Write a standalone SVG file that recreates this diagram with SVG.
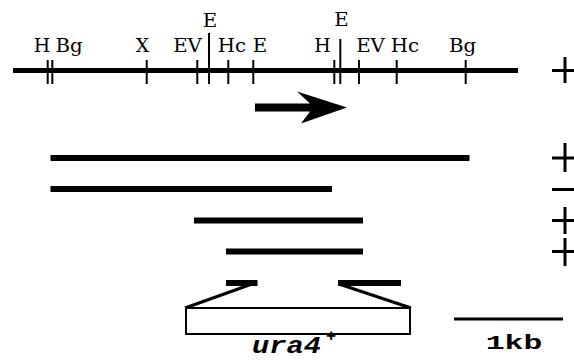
<svg xmlns="http://www.w3.org/2000/svg" width="574" height="360" viewBox="0 0 574 360">
<style>
.bg{fill:#fff}
.bar{stroke:#000;stroke-linecap:butt;fill:none}
.tick{stroke:#000;stroke-width:2;fill:none}
.lbl{font-family:"DejaVu Serif","Liberation Serif",serif;font-size:18px;fill:#000;text-anchor:middle}
.sign{stroke:#000;stroke-width:3;fill:none}
.bold{font-family:"Liberation Mono","Courier New",monospace;font-weight:bold;fill:#000}
</style>
<rect class="bg" x="0" y="0" width="574" height="360"/>
<g id="map">
<line class="bar" x1="13" y1="70.5" x2="518" y2="70.5" stroke-width="5"/>
<line class="tick" x1="47.7" y1="60" x2="47.7" y2="84"/>
<line class="tick" x1="52.3" y1="60" x2="52.3" y2="84"/>
<line class="tick" x1="146.7" y1="60" x2="146.7" y2="84"/>
<line class="tick" x1="197.3" y1="60" x2="197.3" y2="84"/>
<line class="tick" x1="209" y1="33" x2="209" y2="84"/>
<line class="tick" x1="228.3" y1="60" x2="228.3" y2="84"/>
<line class="tick" x1="253.3" y1="60" x2="253.3" y2="84"/>
<line class="tick" x1="334.3" y1="60" x2="334.3" y2="84"/>
<line class="tick" x1="340.3" y1="39" x2="340.3" y2="84"/>
<line class="tick" x1="359" y1="60" x2="359" y2="84"/>
<line class="tick" x1="396.7" y1="60" x2="396.7" y2="84"/>
<line class="tick" x1="465.7" y1="60" x2="465.7" y2="84"/>
<text class="lbl" transform="translate(42,52) scale(1.05,1)">H</text>
<text class="lbl" transform="translate(69,52) scale(1.1,1)">Bg</text>
<text class="lbl" transform="translate(142.5,52) scale(1.05,1)">X</text>
<text class="lbl" transform="translate(187.5,52) scale(1.1,1)">EV</text>
<text class="lbl" transform="translate(210,27) scale(1.1,1)">E</text>
<text class="lbl" transform="translate(232,52) scale(1.1,1)">Hc</text>
<text class="lbl" transform="translate(260,52) scale(1.1,1)">E</text>
<text class="lbl" transform="translate(322.5,52) scale(1.05,1)">H</text>
<text class="lbl" transform="translate(341.5,26) scale(1.1,1)">E</text>
<text class="lbl" transform="translate(370.5,52) scale(1.1,1)">EV</text>
<text class="lbl" transform="translate(405,52) scale(1.1,1)">Hc</text>
<text class="lbl" transform="translate(462.5,52) scale(1.1,1)">Bg</text>
</g>
<g id="arrow">
<polygon points="255,103.5 310,103.5 297,91.5 347,107.5 301,123.5 310,111.5 255,111.5" fill="#000"/>
</g>
<g id="fragment1"><line class="bar" x1="50.5" y1="158" x2="469.5" y2="158" stroke-width="6"/></g>
<g id="fragment2"><line class="bar" x1="50.5" y1="189" x2="332" y2="189" stroke-width="6"/></g>
<g id="fragment3"><line class="bar" x1="194" y1="220.5" x2="363" y2="220.5" stroke-width="6"/></g>
<g id="fragment4"><line class="bar" x1="226" y1="251.5" x2="363" y2="251.5" stroke-width="6"/></g>
<g id="signs">
<path class="sign" d="M565,57V83M552,70.5H578"/>
<path class="sign" d="M565,143V172M552,158H578"/>
<path class="sign" d="M552,189.5H578"/>
<path class="sign" d="M565,207V234M552,220.5H578"/>
<path class="sign" d="M565,238V266M552,251.5H578"/>
</g>
<g id="insertion">
<line class="bar" x1="226" y1="283" x2="257.5" y2="283" stroke-width="6"/>
<line class="bar" x1="338" y1="283" x2="401" y2="283" stroke-width="6"/>
</g>
<g id="connectors">
<line class="bar" x1="185" y1="308" x2="252" y2="284" stroke-width="3"/>
<line class="bar" x1="339" y1="284" x2="411" y2="308" stroke-width="3"/>
</g>
<g id="ura4">
<rect x="186" y="308" width="224" height="26" fill="#fff" stroke="#000" stroke-width="2"/>
<text class="bold" font-style="italic" font-size="23" transform="translate(252,353) scale(1.25,1)">ura4</text>
<text class="bold" font-size="17" text-anchor="middle" x="331" y="341">+</text>
</g>
<g id="scalebar">
<line class="bar" x1="454" y1="319" x2="563" y2="319" stroke-width="3"/>
<text class="bold" font-size="21" text-anchor="middle" transform="translate(514,349) scale(1.5,1)">1kb</text>
</g>
</svg>
